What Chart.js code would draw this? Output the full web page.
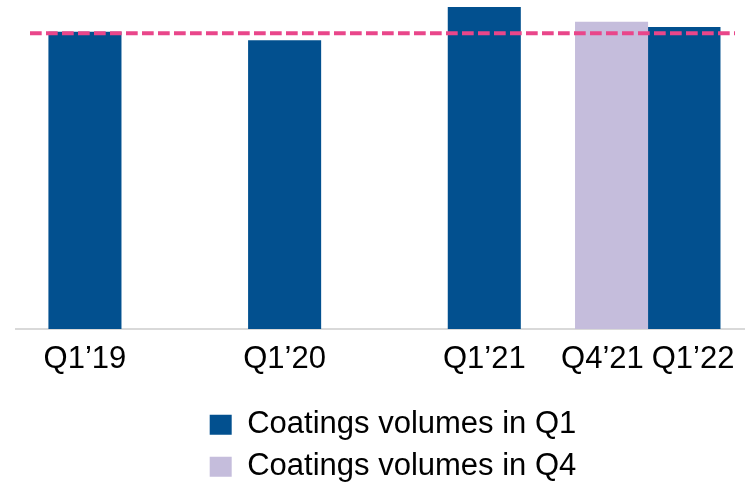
<!DOCTYPE html>
<html>
<head>
<meta charset="utf-8">
<script src="https://cdn.jsdelivr.net/npm/chart.js@4.4.1/dist/chart.umd.min.js"></script>
<style>
  html, body { margin: 0; padding: 0; background: #ffffff; }
  #wrap { position: relative; width: 745px; height: 483px; }
</style>
</head>
<body>
<div id="wrap"><canvas id="chart"></canvas></div>
<script>
// Coatings volumes, indexed to Q1'19 = 100
const yearSlots = ['2019', '2020', '2021', '2022'];
const q1Labels = ['Q1’19', 'Q1’20', 'Q1’21', 'Q1’22'];
const q1Volumes = [100, 97.1, 108.3, 101.6];
const q4Labels = [null, null, null, 'Q4’21'];
const q4Volumes = [null, null, null, 103.3];
const referenceLevel = 99.6;
const seriesNames = ['Coatings volumes in Q1', 'Coatings volumes in Q4'];

const BLUE = '#02508F';
const LAVENDER = '#C5BDDC';
const PINK = '#E9468A';
const AXIS_GREY = '#D9D9D9';
const FONT = "'Liberation Sans', Arial, sans-serif";

Chart.defaults.font.family = FONT;
Chart.defaults.color = '#000000';

// one x slot per year; Q4 and Q1 bars of a year sit side by side in it
const toPoints = values => values.map((y, i) => ({ x: i, y }));
const labelsByDataset = [q4Labels, q1Labels];

// dashed reference level drawn over the bars
const referenceLine = {
  id: 'referenceLine',
  afterDatasetsDraw(chart) {
    const { ctx, scales, width } = chart;
    const py = scales.y.getPixelForValue(referenceLevel);
    ctx.save();
    ctx.strokeStyle = PINK;
    ctx.lineWidth = 4;
    ctx.setLineDash([11.7, 4.3]);
    ctx.beginPath();
    ctx.moveTo(30, py);
    ctx.lineTo(width - 10, py);
    ctx.stroke();
    ctx.restore();
  }
};

// quarter name under each bar; labels that would collide are spread apart
const barLabels = {
  id: 'barLabels',
  afterDraw(chart) {
    const { ctx, chartArea } = chart;
    ctx.save();
    ctx.font = '31px ' + FONT;
    ctx.fillStyle = '#000000';
    ctx.textAlign = 'center';
    ctx.textBaseline = 'alphabetic';
    const items = [];
    chart.data.datasets.forEach((ds, d) => {
      const meta = chart.getDatasetMeta(d);
      ds.data.forEach((pt, i) => {
        const text = labelsByDataset[d][i];
        if (pt.y === null || !text) return;
        items.push({ text, x: meta.data[i].x, w: ctx.measureText(text).width });
      });
    });
    items.sort((a, b) => a.x - b.x);
    const gap = 8;
    for (let k = 1; k < items.length; k++) {
      const a = items[k - 1], b = items[k];
      const overlap = (a.w + b.w) / 2 + gap - (b.x - a.x);
      if (overlap > 0) { a.x -= overlap / 2; b.x += overlap / 2; }
    }
    items.forEach(it => ctx.fillText(it.text, it.x, chartArea.bottom + 38.7));
    ctx.restore();
  }
};

new Chart(document.getElementById('chart'), {
  type: 'bar',
  data: {
    datasets: [
      { label: seriesNames[1], data: toPoints(q4Volumes), backgroundColor: LAVENDER },
      { label: seriesNames[0], data: toPoints(q1Volumes), backgroundColor: BLUE }
    ]
  },
  options: {
    responsive: true,
    maintainAspectRatio: false,
    animation: false,
    layout: { padding: { left: 16, right: -25, top: 2.3, bottom: -9.2 } },
    datasets: { bar: { barThickness: 72.4, borderWidth: 0 } },
    scales: {
      x: {
        type: 'linear',
        min: -0.164,
        max: 3.487,
        offset: false,
        ticks: { display: false },
        grid: { display: false },
        border: { display: true, color: AXIS_GREY, width: 2 },
        afterFit(scale) { scale.height = 69.2; }
      },
      y: { display: false, min: 0, max: 110 }
    },
    plugins: {
      legend: {
        position: 'bottom',
        reverse: true,
        labels: {
          font: { size: 31 },
          color: '#000000',
          boxWidth: 22,
          boxHeight: 20,
          padding: 11
        }
      },
      tooltip: { enabled: false }
    }
  },
  plugins: [referenceLine, barLabels]
});
</script>
</body>
</html>
